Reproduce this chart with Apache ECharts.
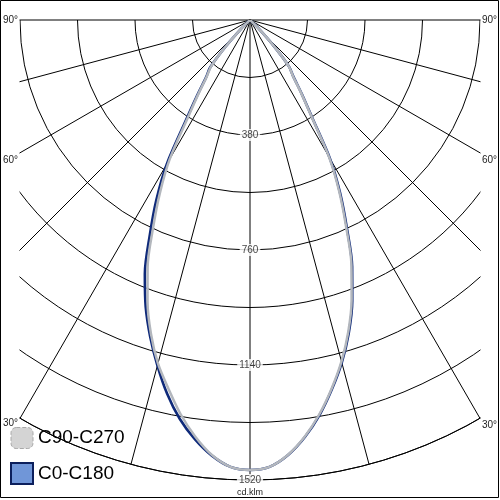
<!DOCTYPE html>
<html><head><meta charset="utf-8">
<script src="https://cdn.jsdelivr.net/npm/echarts@6/dist/echarts.min.js"></script>
<style>html,body{margin:0;padding:0;background:#fff}#c{width:500px;height:500px}</style>
</head><body><div id="c"></div>
<script>
// angles from nadir (degrees)
const angles = [0, 2.5, 5, 7.5, 10, 12.5, 15, 17.5, 20, 22.5, 25, 27.5, 30, 32.5, 35, 37.5, 40, 42.5, 45, 47.5, 50];
// C0-C180 intensities (cd/klm)
const c0Left  = [1487, 1478, 1445, 1397, 1338, 1265, 1182, 1097, 1008, 908, 783, 670, 550, 397, 304, 238, 205, 120, 45, 8, 0];
const c0Right = [1487, 1478, 1443, 1390, 1325, 1250, 1172, 1085, 988, 882, 757, 645, 528, 382, 298, 235, 200, 118, 45, 8, 0];
// C90-C270 intensities (cd/klm)
const c90Left  = [1487, 1478, 1443, 1388, 1322, 1247, 1175, 1088, 990, 884, 758, 645, 530, 382, 296, 234, 200, 118, 45, 8, 0];
const c90Right = [1487, 1478, 1442, 1388, 1322, 1247, 1168, 1080, 982, 876, 750, 638, 522, 378, 295, 233, 198, 116, 44, 8, 0];
const radiusLabels = [380, 760, 1140, 1520];
const seriesNames = ['C90-C270', 'C0-C180'];

function buildCurve(left, right) {
  const pts = [];
  for (let i = angles.length - 1; i >= 0; i--) pts.push([left[i], -angles[i]]);
  for (let i = 1; i < angles.length; i++) pts.push([right[i], angles[i]]);
  return pts;
}

const font = "'Liberation Sans', Arial, sans-serif";
const chart = echarts.init(document.getElementById('c'), null, {renderer: 'canvas'});
chart.setOption({
  animation: false,
  backgroundColor: '#fff',
  polar: { center: [250, 20], radius: 460 },
  angleAxis: {
    type: 'value', min: -90, max: 90, interval: 15,
    startAngle: 180, endAngle: 360, clockwise: false,
    axisLine: { show: true, lineStyle: { color: '#000', width: 1 } },
    axisTick: { show: false }, axisLabel: { show: false },
    splitLine: { show: true, lineStyle: { color: '#000', width: 1 } }
  },
  radiusAxis: {
    type: 'value', min: 0, max: 1520, interval: 190,
    axisLine: { show: false }, axisTick: { show: false }, axisLabel: { show: false },
    splitLine: { show: true, lineStyle: { color: '#000', width: 1 } }
  },
  legend: {
    orient: 'vertical', left: 5, top: 422, itemWidth: 22, itemHeight: 21, itemGap: 13,
    textStyle: { fontSize: 19, color: '#000', fontFamily: font },
    z: 10,
    data: [
      { name: seriesNames[0], icon: 'roundRect', itemStyle: { color: '#d4d4d4', borderColor: '#a8a8a8', borderWidth: 1, borderType: 'dashed' } },
      { name: seriesNames[1], icon: 'rect', itemStyle: { color: '#7096d8', borderColor: '#0c1f5c', borderWidth: 2 } }
    ]
  },
  series: [
    {
      name: seriesNames[1], type: 'line', coordinateSystem: 'polar', smooth: 0.3,
      showSymbol: false, symbol: 'none',
      lineStyle: { color: '#0f2a7a', width: 2.6 }, itemStyle: { color: '#7096d8' },
      data: buildCurve(c0Left, c0Right), z: 2
    },
    {
      name: seriesNames[0], type: 'line', coordinateSystem: 'polar', smooth: 0.3,
      showSymbol: false, symbol: 'none',
      lineStyle: { color: '#b3b7bd', width: 2.5 }, itemStyle: { color: '#d4d4d4' },
      data: buildCurve(c90Left, c90Right), z: 3
    },
    {
      type: 'scatter', coordinateSystem: 'polar', symbolSize: 0, silent: true, z: 5,
      data: radiusLabels.map(v => [v, 0]),
      label: {
        show: true, position: 'inside', formatter: p => String(p.value[0]),
        fontSize: 10, color: '#111', fontFamily: font,
        backgroundColor: '#fff', padding: [1, 2]
      }
    }
  ],
  graphic: [
    { type: 'rect', shape: { x: 0, y: 0, width: 19.5, height: 500 }, style: { fill: '#fff' }, z: 8 },
    { type: 'rect', shape: { x: 480.5, y: 0, width: 20, height: 500 }, style: { fill: '#fff' }, z: 8 },
    { type: 'rect', shape: { x: 0.5, y: 0.5, width: 498, height: 497 }, style: { fill: 'none', stroke: '#000', lineWidth: 1 }, z: 9 },
    { type: 'text', x: 3, y: 20, style: { text: '90°', fill: '#222', font: '10px ' + font, verticalAlign: 'middle' }, z: 9 },
    { type: 'text', x: 3, y: 160, style: { text: '60°', fill: '#222', font: '10px ' + font, verticalAlign: 'middle' }, z: 9 },
    { type: 'text', x: 3, y: 423, style: { text: '30°', fill: '#222', font: '10px ' + font, verticalAlign: 'middle' }, z: 9 },
    { type: 'text', x: 482, y: 20, style: { text: '90°', fill: '#222', font: '10px ' + font, verticalAlign: 'middle' }, z: 9 },
    { type: 'text', x: 482, y: 160, style: { text: '60°', fill: '#222', font: '10px ' + font, verticalAlign: 'middle' }, z: 9 },
    { type: 'text', x: 482, y: 425, style: { text: '30°', fill: '#222', font: '10px ' + font, verticalAlign: 'middle' }, z: 9 },
    { type: 'text', x: 250, y: 493, style: { text: 'cd.klm', fill: '#222', font: '9px ' + font, align: 'center', verticalAlign: 'middle' }, z: 9 }
  ]
});
</script></body></html>
